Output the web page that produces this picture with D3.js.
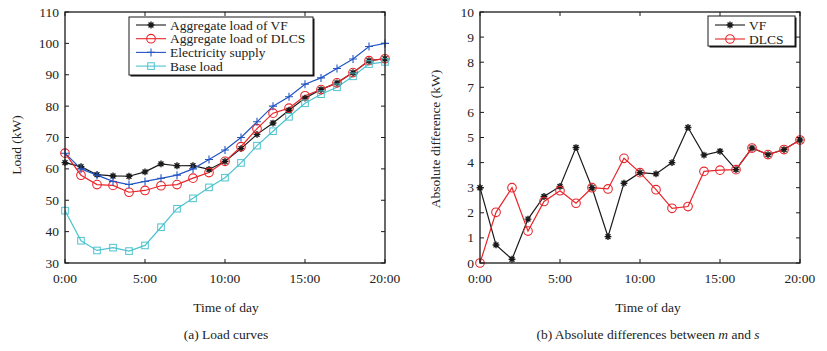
<!DOCTYPE html>
<html>
<head>
<meta charset="utf-8">
<script src="https://cdn.jsdelivr.net/npm/d3@7"></script>
<style>
  body { margin: 0; background: #fff; }
  svg text { font-family: "Liberation Serif", "Times New Roman", serif; font-size: 13.5px; fill: #222; }
</style>
</head>
<body>
<svg id="chart" width="827" height="351"></svg>
<script>
// hours 0..20
let hours = d3.range(0, 21);
let xTicks = [0, 5, 10, 15, 20];
let xTickLabels = ["0:00", "5:00", "10:00", "15:00", "20:00"];

// (a) load curves, kW
let loadVF     = [62, 60.72, 58.15, 57.75, 57.65, 59.05, 61.6, 61, 61.05, 59.82, 62.4, 66.45, 71, 74.6, 78.7, 82.55, 85.28, 87.42, 90.68, 94.48, 95.1];
let loadDLCS   = [65, 57.98, 55, 54.73, 52.55, 53.12, 54.62, 55, 57.05, 58.83, 62.4, 67.08, 72.82, 77.75, 79.35, 83.3, 85.28, 87.42, 90.68, 94.48, 95.1];
let supply     = [65, 60, 58, 56, 55, 56, 57, 58, 60, 63, 66, 70, 75, 80, 83, 87, 89, 92, 95, 99, 100];
let baseLoad   = [46.7, 37.1, 34, 34.9, 33.8, 35.6, 41.4, 47.3, 50.6, 54.1, 57.2, 61.9, 67.4, 72, 76.6, 80.9, 83.8, 86, 89.5, 93.4, 94.1];

// (b) absolute differences between m and s, kW
let diffVF   = [3, 0.72, 0.15, 1.75, 2.65, 3.05, 4.6, 3, 1.05, 3.18, 3.6, 3.55, 4, 5.4, 4.3, 4.45, 3.72, 4.58, 4.32, 4.52, 4.9];
let diffDLCS = [0, 2.02, 3, 1.27, 2.45, 2.88, 2.38, 3, 2.95, 4.17, 3.6, 2.92, 2.18, 2.25, 3.65, 3.7, 3.72, 4.58, 4.32, 4.52, 4.9];

let black = "#1a1a1a", red = "#e8252a", blue = "#2456c4", cyan = "#4cc3cf";

let svg = d3.select("#chart");

function marker(g, type, color, x, y) {
    if (type === "star") {
        let s = 3.4, d = s * 0.72;
        g.append("path")
            .attr("d", `M${x - s},${y}L${x + s},${y}M${x},${y - s}L${x},${y + s}M${x - d},${y - d}L${x + d},${y + d}M${x - d},${y + d}L${x + d},${y - d}`)
            .attr("stroke", color).attr("stroke-width", 1.4).attr("fill", "none");
    } else if (type === "circle") {
        g.append("circle").attr("cx", x).attr("cy", y).attr("r", 4.3)
            .attr("stroke", color).attr("stroke-width", 1.1).attr("fill", "none");
    } else if (type === "plus") {
        let s = 4;
        g.append("path")
            .attr("d", `M${x - s},${y}L${x + s},${y}M${x},${y - s}L${x},${y + s}`)
            .attr("stroke", color).attr("stroke-width", 1.1).attr("fill", "none");
    } else if (type === "square") {
        let s = 3.3;
        g.append("rect").attr("x", x - s).attr("y", y - s).attr("width", 2 * s).attr("height", 2 * s)
            .attr("stroke", color).attr("stroke-width", 1).attr("fill", "none");
    }
}

function drawPanel(p) {
    let x = d3.scaleLinear().domain([0, 20]).range([p.left, p.right]);
    let y = d3.scaleLinear().domain(p.yDomain).range([263, 12]);
    let g = svg.append("g");

    // ticks inside on all four sides
    let tk = 4;
    xTicks.forEach(t => {
        g.append("line").attr("x1", x(t)).attr("x2", x(t)).attr("y1", 263).attr("y2", 263 - tk).attr("stroke", black);
        g.append("line").attr("x1", x(t)).attr("x2", x(t)).attr("y1", 12).attr("y2", 12 + tk).attr("stroke", black);
    });
    p.yTicks.forEach(t => {
        g.append("line").attr("x1", p.left).attr("x2", p.left + tk).attr("y1", y(t)).attr("y2", y(t)).attr("stroke", black);
        g.append("line").attr("x1", p.right).attr("x2", p.right - tk).attr("y1", y(t)).attr("y2", y(t)).attr("stroke", black);
    });

    g.selectAll(".xl").data(xTicks).enter().append("text")
        .attr("x", d => x(d)).attr("y", 283).attr("text-anchor", "middle")
        .text((d, i) => xTickLabels[i]);
    g.selectAll(".yl").data(p.yTicks).enter().append("text")
        .attr("x", p.left - 6).attr("y", d => y(d) + 4.5).attr("text-anchor", "end")
        .text(d => d);

    // series
    let line = d3.line().x((d, i) => x(hours[i])).y(d => y(d));
    p.series.forEach(s => {
        g.append("path").datum(s.values).attr("d", line)
            .attr("fill", "none").attr("stroke", s.color).attr("stroke-width", 1.2);
    });
    p.series.forEach(s => {
        s.values.forEach((v, i) => marker(g, s.marker, s.color, x(hours[i]), y(v)));
    });

    g.append("rect").attr("x", p.left).attr("y", 12).attr("width", p.right - p.left).attr("height", 251)
        .attr("fill", "none").attr("stroke", black).attr("stroke-width", 1.3);

    // legend
    let L = p.legend;
    g.append("rect").attr("x", L.x + 1.5).attr("y", L.y + 1.5).attr("width", L.w).attr("height", L.h).attr("fill", "#111");
    g.append("rect").attr("x", L.x).attr("y", L.y).attr("width", L.w).attr("height", L.h)
        .attr("fill", "#fff").attr("stroke", black).attr("stroke-width", 1);
    p.series.forEach((s, i) => {
        let ly = L.y + L.first + i * L.step;
        g.append("line").attr("x1", L.x + 7).attr("x2", L.x + 37).attr("y1", ly).attr("y2", ly)
            .attr("stroke", s.color).attr("stroke-width", 1.1);
        marker(g, s.marker, s.color, L.x + 22, ly);
        g.append("text").attr("x", L.x + 41).attr("y", ly + 4.5).text(s.name);
    });

    // titles
    let cx = (p.left + p.right) / 2 + p.titleShift;
    g.append("text").attr("x", cx).attr("y", 312).attr("text-anchor", "middle").text("Time of day");
    g.append("text").attr("transform", `translate(${p.yTitleX},${p.yTitleY}) rotate(-90)`)
        .attr("text-anchor", "middle").text(p.yTitle);
    let cap = g.append("text").attr("x", cx).attr("y", 339).attr("text-anchor", "middle");
    p.caption.forEach(c => cap.append("tspan").attr("font-style", c.italic ? "italic" : null).text(c.t));
}

drawPanel({
    left: 65, right: 385, titleShift: 1,
    yDomain: [30, 110], yTicks: d3.range(30, 111, 10),
    yTitle: "Load (kW)", yTitleX: 21, yTitleY: 145,
    caption: [{ t: "(a) Load curves" }],
    series: [
        { name: "Aggregate load of VF", values: loadVF, color: black, marker: "star" },
        { name: "Aggregate load of DLCS", values: loadDLCS, color: red, marker: "circle" },
        { name: "Electricity supply", values: supply, color: blue, marker: "plus" },
        { name: "Base load", values: baseLoad, color: cyan, marker: "square" }
    ],
    legend: { x: 129, y: 17, w: 184, h: 58, first: 8, step: 13.7 }
});

drawPanel({
    left: 480, right: 800, titleShift: 8,
    yDomain: [0, 10], yTicks: d3.range(0, 11, 1),
    yTitle: "Absolute difference (kW)", yTitleX: 440, yTitleY: 139,
    caption: [{ t: "(b) Absolute differences between " }, { t: "m", italic: true }, { t: " and " }, { t: "s", italic: true }],
    series: [
        { name: "VF", values: diffVF, color: black, marker: "star" },
        { name: "DLCS", values: diffDLCS, color: red, marker: "circle" }
    ],
    legend: { x: 708, y: 16, w: 87, h: 30, first: 9, step: 14 }
});
</script>
</body>
</html>
